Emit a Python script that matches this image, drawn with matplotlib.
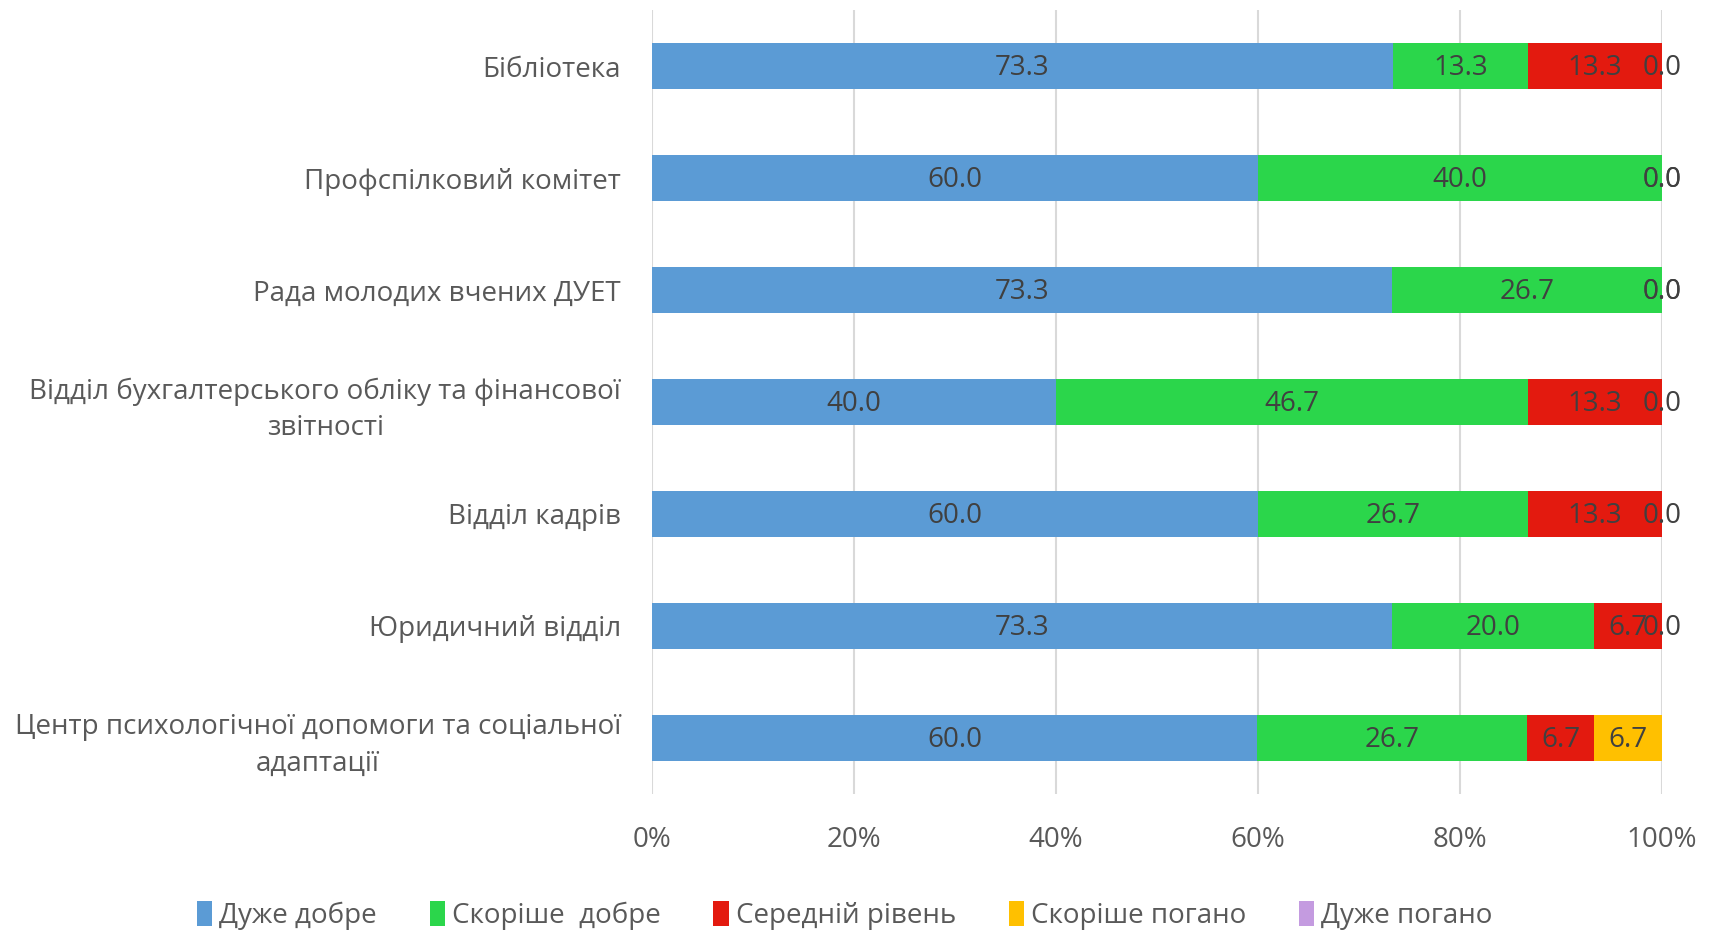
import numpy as np
import matplotlib
matplotlib.use('Agg')
import matplotlib.pyplot as plt

plt.rcParams['font.family'] = ['Open Sans', 'DejaVu Sans']

# Дані (відсотки)
categories = [
    'Бібліотека',
    'Профспілковий комітет',
    'Рада молодих вчених ДУЕТ',
    'Відділ бухгалтерського обліку та фінансової\nзвітності',
    'Відділ кадрів',
    'Юридичний відділ',
    'Центр психологічної допомоги та соціальної\nадаптації',
]
very_good = [73.3, 60.0, 73.3, 40.0, 60.0, 73.3, 60.0]
rather_good = [13.3, 40.0, 26.7, 46.7, 26.7, 20.0, 26.7]
average = [13.3, 0.0, 0.0, 13.3, 13.3, 6.7, 6.7]
rather_bad = [0.0, 0.0, 0.0, 0.0, 0.0, 0.0, 6.7]
very_bad = [0.0, 0.0, 0.0, 0.0, 0.0, 0.0, 0.0]

series_names = ['Дуже добре', 'Скоріше  добре', 'Середній рівень', 'Скоріше погано', 'Дуже погано']
colors = ['#5B9BD5', '#2BD64B', '#E31A0F', '#FFC000', '#C49BE0']
labelled = [True, True, True, True, False]

series = [very_good, rather_good, average, rather_bad, very_bad]
data = np.array(series)
totals = data.sum(axis=0)
pct = data / totals * 100

fig = plt.figure(figsize=(17.1, 9.36), dpi=100)
ax = fig.add_axes([0.381, 0.152, 0.591, 0.837])

y = np.arange(len(categories))
left = np.zeros(len(categories))
for vals, raw, name, col, lab in zip(pct, series, series_names, colors, labelled):
    ax.barh(y, vals, left=left, height=0.41, color=col, label=name, zorder=3)
    if lab:
        for yi, l, v, r in zip(y, left, vals, raw):
            ax.text(l + v / 2, yi + 0.02, f'{r:.1f}', ha='center', va='center',
                    fontsize=20, color='#404040', zorder=4)
    left += vals

ax.set_ylim(len(categories) - 0.5, -0.5)
ax.set_xlim(0, 100)
ax.set_yticks(y)
ax.set_yticklabels(categories, fontsize=20, color='#595959', multialignment='center',
                   linespacing=1.4)
ax.set_xticks(np.arange(0, 101, 20))
ax.set_xticklabels([f'{t}%' for t in range(0, 101, 20)], fontsize=20, color='#595959')
ax.tick_params(axis='both', length=0)
ax.tick_params(axis='x', pad=23)
ax.tick_params(axis='y', pad=22)
ax.grid(axis='x', color='#D9D9D9', linewidth=1.5, zorder=0)
for s in ax.spines.values():
    s.set_visible(False)

leg = fig.legend(loc='center', bbox_to_anchor=(0.494, 0.022), ncol=5, frameon=False,
                 fontsize=20, handlelength=0.55, handleheight=1.0, handletextpad=0.25,
                 columnspacing=1.9, labelcolor='#595959')

plt.savefig('out.png', dpi=100)
